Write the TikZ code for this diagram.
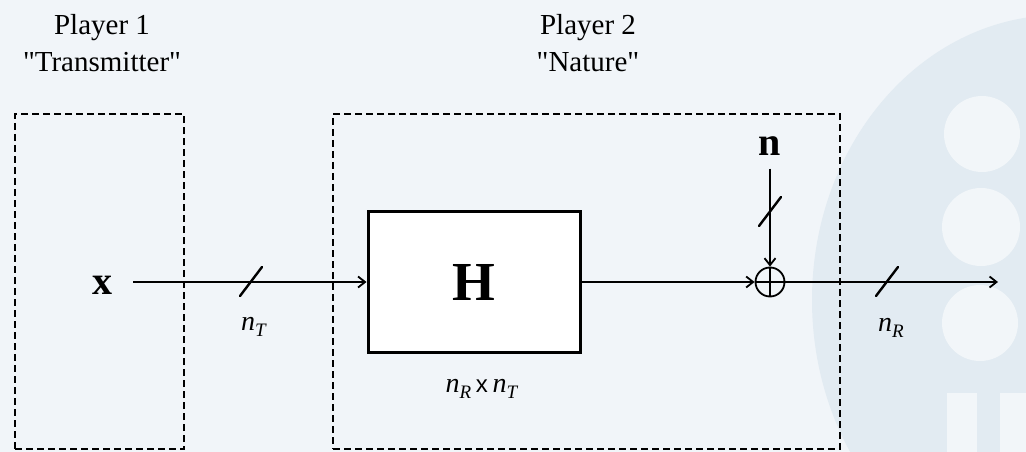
\documentclass[tikz,border=0pt]{standalone}
\usepackage{fontspec}
\setmainfont{Liberation Serif}[Ligatures=TeXOff]
\newfontfamily\sansx{Liberation Sans}
\usetikzlibrary{arrows.meta}
\definecolor{bg}{HTML}{F1F5F9}
\definecolor{wm}{HTML}{E2EBF2}
\definecolor{wmlight}{HTML}{F2F6F9}
\newcommand\nlab[1]{\textit{n}\raisebox{-6pt}{\fontsize{19}{19}\selectfont\textit{#1}}}
\begin{document}
\begin{tikzpicture}[x=1pt,y=-1pt,
  dbox/.style={draw, dash pattern=on 7pt off 4pt, line width=2.2pt, inner sep=0pt},
  hbox/.style={draw, fill=white, line width=3pt, inner sep=0pt},
  wire/.style={line width=1.3pt},
  arr/.style={wire, -{Straight Barb[length=7pt,width=11pt,line width=1.8pt]}},
  slash/.style={line width=2.4pt, line cap=round},
  title/.style={align=center, font=\fontsize{29}{37}\selectfont},
  lab/.style={font=\fontsize{28}{30}\selectfont, inner sep=0pt}]
\fill[bg] (0,0) rectangle (1026,452);
\useasboundingbox (0,0) rectangle (1026,452);
\begin{scope}
\clip (0,0) rectangle (1026,452);
\fill[wm] (1060,300) ellipse[x radius=248pt, y radius=285pt];
\fill[wmlight] (982,134) circle[radius=38pt];
\fill[wmlight] (981,227) circle[radius=39pt];
\fill[wmlight] (980,323) circle[radius=38pt];
\fill[wmlight] (947,393) rectangle (977,452);
\fill[wmlight] (1000,393) rectangle (1026,452);
\end{scope}
% titles
\node[title] (p1) at (102,43) {Player 1\\"Transmitter"};
\node[title] (p2) at (588,43) {Player 2\\"Nature"};
% dashed boxes
\node[dbox, minimum width=169pt, minimum height=335pt] (b1) at (99.5,281.5) {};
\node[dbox, minimum width=507pt, minimum height=335pt] (b2) at (586.5,281.5) {};
% H block
\node[hbox, minimum width=212pt, minimum height=141pt, font=\fontsize{55}{55}\selectfont\bfseries] (H) at (474,282) {H};
% input
\node[font=\fontsize{40}{40}\selectfont\bfseries, inner sep=0pt] (x) at (102,285) {x};
\coordinate (xs) at (133,282);
\draw[arr] (xs) -- (H.west);
\draw[slash] (251,282) ++(-11,14) -- ++(22,-29);
\node[lab] (nT) at (254,327) {\nlab{T}};
\node[lab] (dim) at (482,389) {\nlab{R}\,{\sansx\fontsize{24}{24}\selectfont x}\,\nlab{T}};
% summing junction
\node[circle, draw, line width=1.8pt, minimum size=29pt, inner sep=0pt] (sum) at (770,282) {};
\draw[wire] (sum.north) -- (sum.south);
\draw[wire] (sum.west) -- (sum.east);
\draw[arr] (H.east) -- (sum.west);
% noise
\node[font=\fontsize{40}{40}\selectfont\bfseries, inner sep=0pt] (n) at (770,146) {n};
\draw[arr] ([yshift=-13pt]n.south) -- (sum.north);
\draw[slash] (770,212) ++(-11,14) -- ++(22,-29);
% output
\coordinate (out) at (998,282);
\draw[arr] (sum.east) -- (out);
\draw[slash] (887,282) ++(-11,14) -- ++(22,-29);
\node[lab] (nR) at (891,328) {\nlab{R}};
\end{tikzpicture}
\end{document}
